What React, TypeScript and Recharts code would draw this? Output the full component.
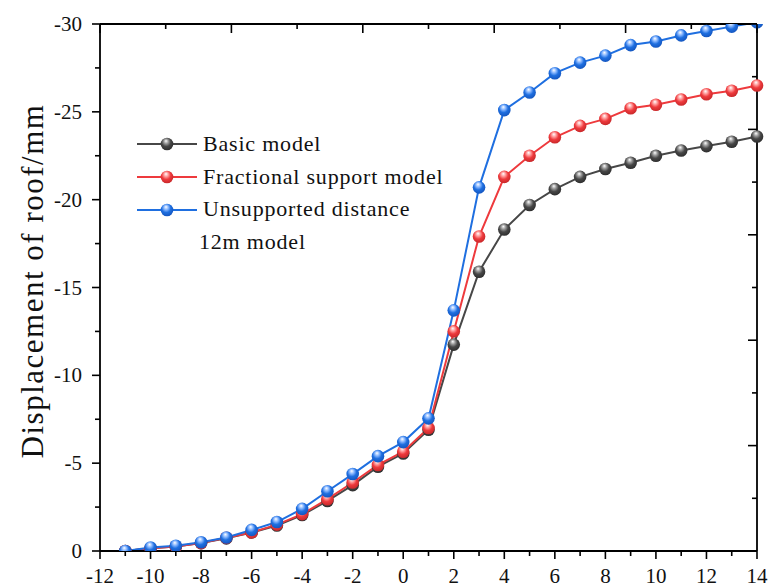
import React from "react";
import { LineChart, Line, XAxis, YAxis } from "recharts";

const positions = [-11, -10, -9, -8, -7, -6, -5, -4, -3, -2, -1, 0, 1, 2, 3, 4, 5, 6, 7, 8, 9, 10, 11, 12, 13, 14];

const basicModel = [0, -0.15, -0.25, -0.45, -0.72, -1.05, -1.45, -2.05, -2.85, -3.75, -4.8, -5.55, -6.9, -11.75, -15.9, -18.3, -19.7, -20.6, -21.3, -21.75, -22.1, -22.5, -22.8, -23.05, -23.3, -23.6];
const fractionalModel = [0, -0.15, -0.25, -0.45, -0.75, -1.05, -1.5, -2.1, -2.95, -3.9, -4.9, -5.65, -7.0, -12.5, -17.9, -21.3, -22.5, -23.55, -24.2, -24.6, -25.2, -25.4, -25.7, -26.0, -26.2, -26.5];
const unsupportedModel = [0, -0.2, -0.3, -0.5, -0.77, -1.2, -1.65, -2.4, -3.4, -4.38, -5.4, -6.2, -7.55, -13.7, -20.7, -25.1, -26.1, -27.2, -27.8, -28.2, -28.8, -29.0, -29.35, -29.6, -29.85, -30.1];

const xTicks = [-12, -11, -10, -9, -8, -7, -6, -5, -4, -3, -2, -1, 0, 1, 2, 3, 4, 5, 6, 7, 8, 9, 10, 11, 12, 13, 14];
const topTicks = [-12, -9.4, -6.8, -4.2, -1.6, 1, 3.6, 6.2, 8.8, 11.4, 14];
const yTicks = [0, -2.5, -5, -7.5, -10, -12.5, -15, -17.5, -20, -22.5, -25, -27.5, -30];
const rightTicks = [0, -3, -6, -9, -12, -15, -18, -21, -24, -27, -30];

const series = [
  { key: "basic", name: "Basic model", color: "#474747", light: "#9a9a9a", dark: "#2e2e2e" },
  { key: "fractional", name: "Fractional support model", color: "#ee3a3d", light: "#ff9a9a", dark: "#c8282a" },
  { key: "unsupported", name: "Unsupported distance", color: "#1f6fe0", light: "#8ab8ff", dark: "#1456c0" },
];

const data = positions.map((x, i) => ({
  x,
  basic: basicModel[i],
  fractional: fractionalModel[i],
  unsupported: unsupportedModel[i],
}));

const FONT = "'Liberation Serif', 'Times New Roman', serif";

function Gradients() {
  return (
    <defs>
      {series.map((s) => (
        <radialGradient key={s.key} id={"ball-" + s.key} cx="45%" cy="40%" r="60%" fx="42%" fy="25%">
          <stop offset="0%" stopColor="#ffffff" />
          <stop offset="30%" stopColor={s.light} />
          <stop offset="60%" stopColor={s.color} />
          <stop offset="100%" stopColor={s.dark} />
        </radialGradient>
      ))}
    </defs>
  );
}

const makeDot = (key: string) => (props: any) => {
  const { cx, cy, index } = props;
  if (cx == null || cy == null) return <g key={index} />;
  return <circle key={index} cx={cx} cy={cy} r={6.3} fill={`url(#ball-${key})`} />;
};

const BottomTick = (props: any) => {
  const { x, y, payload } = props;
  const v = payload.value;
  const major = v % 2 === 0;
  return (
    <g>
      <line x1={x} x2={x} y1={y} y2={y + (major ? 8 : 5)} stroke="#000" strokeWidth={1.6} />
      {major && (
        <text x={x} y={y + 32} textAnchor="middle" fontFamily={FONT} fontSize={21} fill="#111">
          {v}
        </text>
      )}
    </g>
  );
};

const LeftTick = (props: any) => {
  const { x, y, payload } = props;
  const v = payload.value;
  const major = v % 5 === 0;
  return (
    <g>
      <line x1={x} x2={x - (major ? 8 : 5)} y1={y} y2={y} stroke="#000" strokeWidth={1.6} />
      {major && (
        <text x={x - 18} y={y + 7} textAnchor="end" fontFamily={FONT} fontSize={21} fill="#111">
          {v}
        </text>
      )}
    </g>
  );
};

const TopTick = (props: any) => {
  const { x, y, index } = props;
  const major = index % 2 === 0;
  return <line x1={x} x2={x} y1={y} y2={y + (major ? 9 : 5)} stroke="#000" strokeWidth={1.6} />;
};

const RightTick = (props: any) => {
  const { x, y, payload } = props;
  const major = payload.value % 6 === 0;
  return <line x1={x} x2={x - (major ? 9 : 5)} y1={y} y2={y} stroke="#000" strokeWidth={1.6} />;
};

function LegendBox() {
  return (
    <div
      style={{
        position: "absolute",
        left: 137,
        top: 128,
        fontFamily: FONT,
        fontSize: 22,
        letterSpacing: 0.8,
        color: "#111",
        lineHeight: "32.7px",
      }}
    >
      {series.map((s) => (
        <div key={s.key} style={{ display: "flex", alignItems: "center", height: 32.7 }}>
          <svg width={62} height={16} style={{ marginRight: 4 }}>
            <line x1={0} x2={60} y1={8} y2={8} stroke={s.color} strokeWidth={2} />
            <circle cx={30} cy={8} r={6.3} fill={`url(#ball-${s.key})`} />
          </svg>
          <span>{s.name}</span>
        </div>
      ))}
      <div style={{ height: 32.7, paddingLeft: 62 }}>12m model</div>
    </div>
  );
}

export default function App() {
  return (
    <div style={{ position: "absolute", left: 0, top: 0, width: 769, height: 588, background: "#fff" }}>
      <LineChart width={769} height={588} data={data} margin={{ top: 23, right: 11, bottom: 0, left: 40 }}>
        <Gradients />
        <XAxis
          xAxisId="bottom"
          dataKey="x"
          type="number"
          domain={[-12, 14]}
          ticks={xTicks}
          interval={0}
          tickSize={0}
          tickMargin={0}
          tickLine={false}
          tick={<BottomTick />}
          axisLine={{ stroke: "#000", strokeWidth: 1.8 }}
          height={37}
        />
        <XAxis
          xAxisId="top"
          orientation="top"
          dataKey="x"
          type="number"
          domain={[-12, 14]}
          ticks={topTicks}
          interval={0}
          tickSize={0}
          tickMargin={0}
          tickLine={false}
          tick={<TopTick />}
          axisLine={{ stroke: "#000", strokeWidth: 1.8 }}
          height={1}
        />
        <YAxis
          yAxisId="left"
          type="number"
          domain={[-30, 0]}
          reversed
          allowDataOverflow
          ticks={yTicks}
          interval={0}
          tickSize={0}
          tickMargin={0}
          tickLine={false}
          tick={<LeftTick />}
          axisLine={{ stroke: "#000", strokeWidth: 1.8 }}
          width={60}
        />
        <YAxis
          yAxisId="right"
          orientation="right"
          type="number"
          domain={[-30, 0]}
          reversed
          allowDataOverflow
          ticks={rightTicks}
          interval={0}
          tickSize={0}
          tickMargin={0}
          tickLine={false}
          tick={<RightTick />}
          axisLine={{ stroke: "#000", strokeWidth: 1.8 }}
          width={1}
        />
        {series.map((s) => (
          <Line
            key={s.key}
            xAxisId="bottom"
            yAxisId="left"
            dataKey={s.key}
            name={s.name}
            type="linear"
            stroke={s.color}
            strokeWidth={2}
            dot={makeDot(s.key)}
            activeDot={false}
            isAnimationActive={false}
          />
        ))}
        <text
          x={43}
          y={281}
          transform="rotate(-90 43 281)"
          textAnchor="middle"
          fontFamily={FONT}
          fontSize={31}
          letterSpacing={1.5}
          fill="#111"
        >
          Displacement of roof/mm
        </text>
      </LineChart>
      <LegendBox />
    </div>
  );
}
